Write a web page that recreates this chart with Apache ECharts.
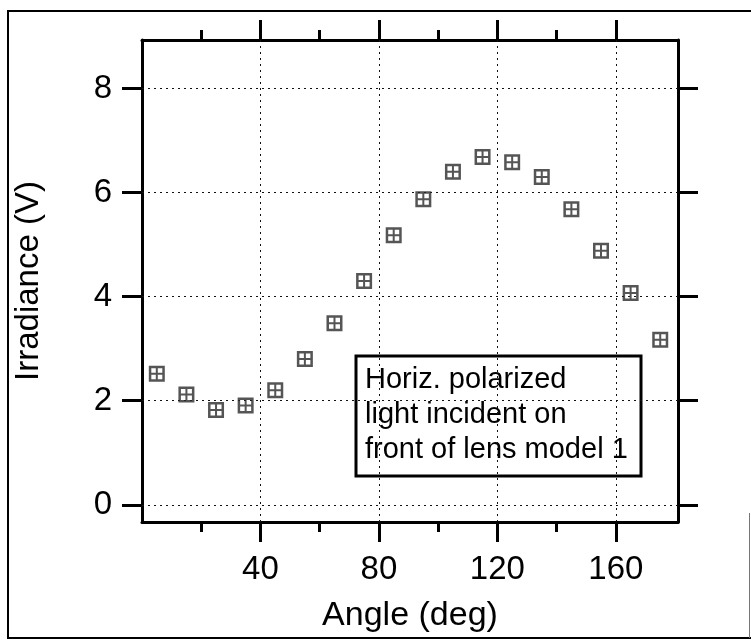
<!DOCTYPE html>
<html>
<head>
<meta charset="utf-8">
<title>Irradiance vs angle</title>
<script src="https://cdn.jsdelivr.net/npm/echarts@6/dist/echarts.min.js"></script>
<style>
  html, body { margin: 0; padding: 0; background: #fff; }
  #main { width: 751px; height: 640px; }
</style>
</head>
<body>
<div id="main"></div>
<script>
// data
const angles = [5, 15, 25, 35, 45, 55, 65, 75, 85, 95, 105, 115, 125, 135, 145, 155, 165, 175];
const irradiance = [2.52, 2.12, 1.82, 1.91, 2.2, 2.8, 3.49, 4.3, 5.18, 5.87, 6.4, 6.68, 6.58, 6.3, 5.68, 4.88, 4.07, 3.17];
const xMajorTicks = [40, 80, 120, 160];
const xMinorTicks = [20, 60, 100, 140];
const yTicks = [0, 2, 4, 6, 8];
const noteLines = ["Horiz. polarized", "light incident on", "front of lens model 1"];

const FONT = "Liberation Sans";
const xRange = { min: 0, max: 181 };
const yRange = { min: -0.33, max: 8.93 };

// square marker split in four cells
const markerPath = "path://M0 0H16V16H0Z M2.5 2.5V7H7V2.5Z M9 2.5V7H13.5V2.5Z M2.5 9V13.5H7V9Z M9 9V13.5H13.5V9Z";

function xAxisDef(position, ticks, len, showLine, showLabel) {
  return {
    type: "value",
    position: position,
    min: xRange.min,
    max: xRange.max,
    axisLine: { show: showLine, onZero: false, lineStyle: { color: "#000", width: 3 } },
    axisTick: { show: true, inside: false, length: len, customValues: ticks, lineStyle: { color: "#000", width: 3 } },
    axisLabel: { show: showLabel, customValues: ticks, fontSize: 33, fontFamily: FONT, color: "#000", margin: 31 },
    splitLine: { show: false }
  };
}

function yAxisDef(position, showLabel) {
  return {
    type: "value",
    position: position,
    min: yRange.min,
    max: yRange.max,
    axisLine: { show: true, onZero: false, lineStyle: { color: "#000", width: 3 } },
    axisTick: { show: true, inside: false, length: 20, customValues: yTicks, lineStyle: { color: "#000", width: 3 } },
    axisLabel: { show: showLabel, customValues: yTicks, fontSize: 33, fontFamily: FONT, color: "#000", margin: 30 },
    splitLine: { show: false }
  };
}

const bottomAxis = xAxisDef("bottom", xMajorTicks, 20, true, true);
bottomAxis.name = "Angle (deg)";
bottomAxis.nameLocation = "middle";
bottomAxis.nameGap = 77;
bottomAxis.nameTextStyle = { fontSize: 34, fontFamily: FONT, color: "#000" };

const leftAxis = yAxisDef("left", true);
leftAxis.name = "Irradiance (V)";
leftAxis.nameLocation = "middle";
leftAxis.nameGap = 97;
leftAxis.nameTextStyle = { fontSize: 33, fontFamily: FONT, color: "#000" };

const gridLines = xMajorTicks.map(v => ({ xAxis: v })).concat(yTicks.map(v => ({ yAxis: v })));

const option = {
  animation: false,
  backgroundColor: "#fff",
  grid: { left: 142, right: 73, top: 40, bottom: 118 },
  xAxis: [
    bottomAxis,
    xAxisDef("bottom", xMinorTicks, 10, false, false),
    xAxisDef("top", xMajorTicks, 20, true, false),
    xAxisDef("top", xMinorTicks, 10, false, false)
  ],
  yAxis: [leftAxis, yAxisDef("right", false)],
  series: [
    {
      type: "scatter",
      xAxisIndex: 0,
      yAxisIndex: 0,
      symbol: markerPath,
      symbolSize: 16,
      itemStyle: { color: "#2a2a2a" },
      data: angles.map((a, i) => [a, irradiance[i]]),
      z: 5,
      markLine: {
        silent: true,
        symbol: "none",
        label: { show: false },
        lineStyle: { type: [2, 4], color: "#111", width: 1 },
        data: gridLines,
        z: 1
      }
    }
  ],
  graphic: [
    // outer frame of the figure
    { type: "line", shape: { x1: 7, y1: 11, x2: 751, y2: 11 }, style: { stroke: "#000", lineWidth: 2 } },
    { type: "line", shape: { x1: 8, y1: 11, x2: 8, y2: 638 }, style: { stroke: "#000", lineWidth: 2 } },
    { type: "line", shape: { x1: 7, y1: 638, x2: 751, y2: 638 }, style: { stroke: "#000", lineWidth: 2 } },
    { type: "line", shape: { x1: 749.5, y1: 513, x2: 749.5, y2: 638 }, style: { stroke: "#777", lineWidth: 1 } },
    // annotation box
    {
      type: "group",
      z: 100,
      children: [
        { type: "rect", shape: { x: 356, y: 356, width: 285, height: 120 }, style: { fill: "#fff", stroke: "#000", lineWidth: 3 } },
        {
          type: "text",
          x: 365,
          y: 362,
          style: { text: noteLines.join("\n"), font: '29px "Liberation Sans"', lineHeight: 35, fill: "#000", verticalAlign: "top" }
        }
      ]
    }
  ]
};

const chart = echarts.init(document.getElementById("main"));
chart.setOption(option);
</script>
</body>
</html>
